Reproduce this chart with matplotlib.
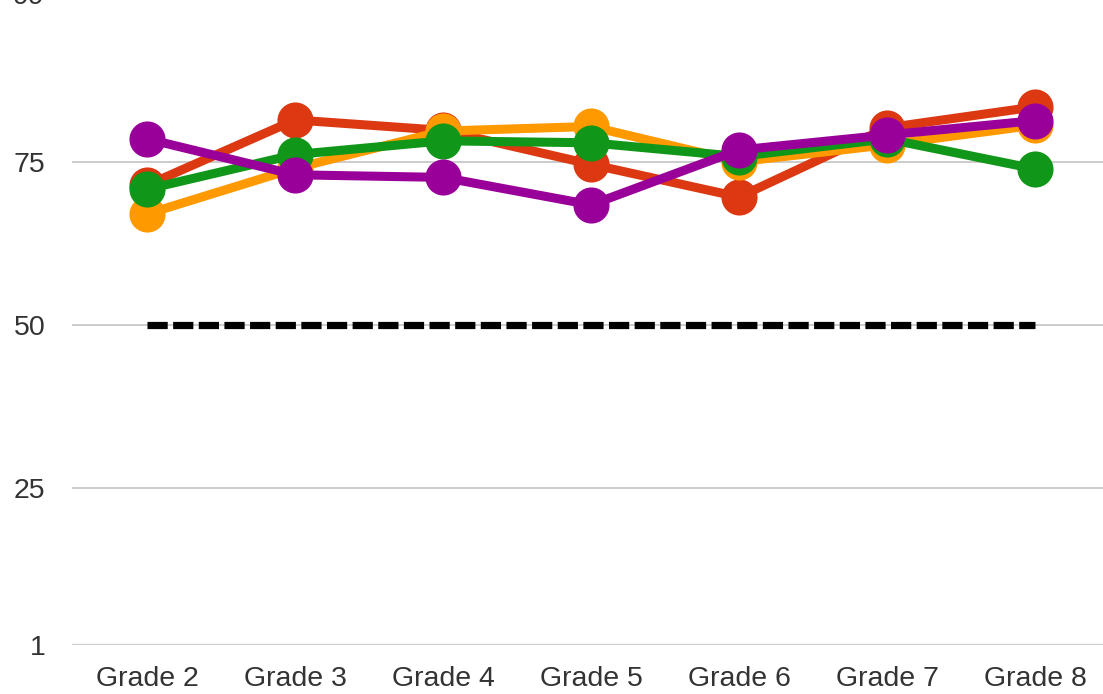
import matplotlib
matplotlib.use('Agg')
import matplotlib.pyplot as plt

grades = ['Grade 2', 'Grade 3', 'Grade 4', 'Grade 5', 'Grade 6', 'Grade 7', 'Grade 8']
red = [71.4, 81.4, 79.8, 74.6, 69.6, 80.2, 83.4]
orange = [67.0, 74.0, 79.7, 80.4, 75.0, 77.6, 80.6]
green = [70.8, 76.1, 78.2, 77.9, 75.8, 78.5, 73.9]
purple = [78.5, 73.0, 72.6, 68.4, 76.8, 79.1, 81.3]
benchmark = [50] * 7
yticks = [1, 25, 50, 75]

plt.rcParams['font.family'] = ['Liberation Sans', 'DejaVu Sans']
fig = plt.figure(figsize=(11.03, 6.94), dpi=100)
ax = fig.add_axes([72 / 1103, 49 / 694, 1031 / 1103, 640 / 694])

x = list(range(len(grades)))
for g in yticks[1:]:
    ax.axhline(g, color='#cccccc', lw=1.4, zorder=0)
ax.axhline(1, color='#cccccc', lw=1.6, zorder=0)

ax.plot(x, benchmark, color='black', lw=5.2, dashes=(2.8, 0.75),
        dash_capstyle='butt', zorder=1)
for vals, col in [(red, '#dc3912'), (orange, '#ff9900'),
                  (green, '#109618'), (purple, '#990099')]:
    ax.plot(x, vals, color=col, lw=6.5, marker='o', markersize=26,
            markeredgewidth=0, zorder=2)

ax.set_xlim(-0.507, 6.459)
ax.set_ylim(1, 99)
ax.set_xticks(x)
ax.set_xticklabels(grades)
ax.set_yticks(yticks)
ax.tick_params(axis='both', length=0, labelsize=20.5, colors='#333333')
ax.tick_params(axis='y', pad=19)
ax.tick_params(axis='x', pad=15)
ax.text(-0.507 - 0.185, 100.2, '99', ha='right', va='center', fontsize=20.5,
        color='#333333', clip_on=False)
for s in ax.spines.values():
    s.set_visible(False)

fig.savefig('out.png', dpi=100)
